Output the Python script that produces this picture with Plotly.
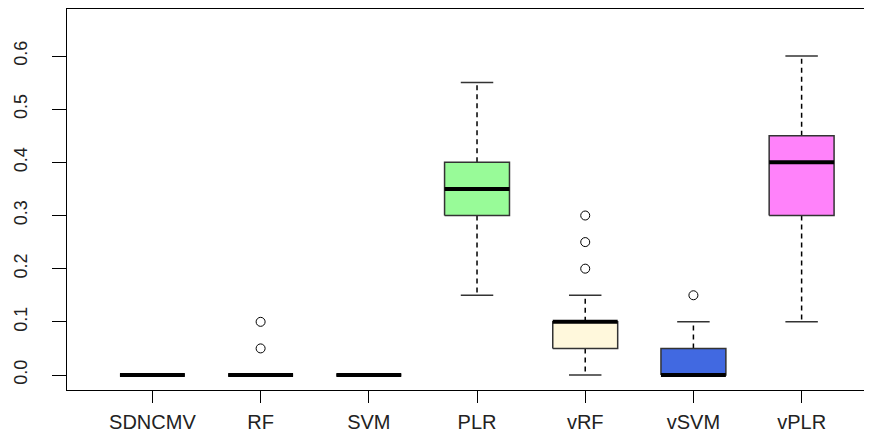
import plotly.graph_objects as go

categories = ["SDNCMV", "RF", "SVM", "PLR", "vRF", "vSVM", "vPLR"]
q1 = [0.0, 0.0, 0.0, 0.30, 0.05, 0.0, 0.30]
median = [0.0, 0.0, 0.0, 0.35, 0.10, 0.0, 0.40]
q3 = [0.0, 0.0, 0.0, 0.40, 0.10, 0.05, 0.45]
whisker_low = [0.0, 0.0, 0.0, 0.15, 0.0, 0.0, 0.10]
whisker_high = [0.0, 0.0, 0.0, 0.55, 0.15, 0.10, 0.60]
outliers = [[], [0.05, 0.10], [], [], [0.20, 0.25, 0.30], [0.15], []]
fills = ["white", "white", "white", "#98FB98", "#FFF8DC", "#4169E1", "#FF82FA"]
y_ticks = [0.0, 0.1, 0.2, 0.3, 0.4, 0.5, 0.6]

BOX_HALF = 0.30
CAP_HALF = 0.15

fig = go.Figure()
for i, cat in enumerate(categories):
    x = i + 1
    # whiskers (dashed)
    if whisker_high[i] > q3[i]:
        fig.add_trace(go.Scatter(x=[x, x], y=[q3[i], whisker_high[i]], mode="lines",
                                 line=dict(color="black", width=1.5, dash="5px,4px"),
                                 hoverinfo="skip", showlegend=False))
    if whisker_low[i] < q1[i]:
        fig.add_trace(go.Scatter(x=[x, x], y=[q1[i], whisker_low[i]], mode="lines",
                                 line=dict(color="black", width=1.5, dash="5px,4px"),
                                 hoverinfo="skip", showlegend=False))
    # caps
    for v in (whisker_low[i], whisker_high[i]):
        fig.add_trace(go.Scatter(x=[x - CAP_HALF, x + CAP_HALF], y=[v, v], mode="lines",
                                 line=dict(color="#333333", width=1.5),
                                 hoverinfo="skip", showlegend=False))
    # box
    fig.add_trace(go.Scatter(x=[x - BOX_HALF, x + BOX_HALF, x + BOX_HALF, x - BOX_HALF, x - BOX_HALF],
                             y=[q1[i], q1[i], q3[i], q3[i], q1[i]],
                             mode="lines", fill="toself", fillcolor=fills[i],
                             line=dict(color="#333333", width=1.5),
                             hoverinfo="skip", showlegend=False))
    # median
    fig.add_trace(go.Scatter(x=[x - BOX_HALF, x + BOX_HALF], y=[median[i], median[i]], mode="lines",
                             line=dict(color="black", width=4),
                             hoverinfo="skip", showlegend=False))
    # outliers
    if outliers[i]:
        fig.add_trace(go.Scatter(x=[x] * len(outliers[i]), y=outliers[i], mode="markers",
                                 marker=dict(symbol="circle-open", size=9, color="black",
                                             line=dict(width=1)),
                                 hoverinfo="skip", showlegend=False))

fig.update_layout(
    width=864, height=436,
    margin=dict(l=59, r=2, t=1, b=54),
    paper_bgcolor="white", plot_bgcolor="white",
    font=dict(family="Liberation Sans, Arial, sans-serif", color="black"),
    xaxis=dict(range=[0.2106, 7.632], tickvals=list(range(1, len(categories) + 1)),
               ticktext=categories, ticks="outside", ticklen=12, tickcolor="black",
               ticklabelstandoff=2,
               showgrid=False, zeroline=False, showline=True, linecolor="black",
               linewidth=1, mirror=True, tickfont=dict(size=20, color="#222222")),
    yaxis=dict(range=[-0.0282, 0.6884], tickvals=y_ticks,
               ticktext=[f"{v:.1f}" for v in y_ticks], ticks="outside", ticklen=14,
               tickcolor="black", tickangle=-90, ticklabelstandoff=18,
               showgrid=False, zeroline=False, showline=True, linecolor="black",
               linewidth=1, mirror=True, tickfont=dict(size=18, color="#222222")),
)

fig.write_html("out.html")
